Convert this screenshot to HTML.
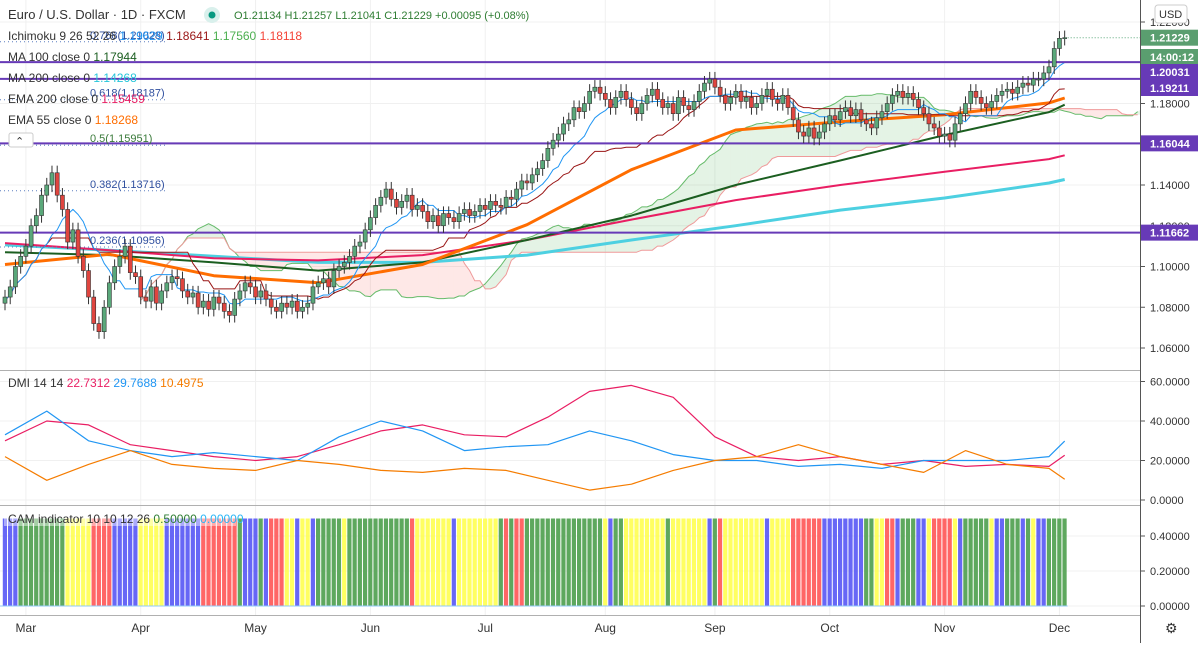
<!DOCTYPE html>
<html><head><meta charset="utf-8"><style>
body{margin:0;background:#fff;width:1198px;height:643px;overflow:hidden;font-family:"Liberation Sans",sans-serif}
svg text{font-family:"Liberation Sans",sans-serif}
</style></head><body>
<svg id="c" width="1198" height="643" xmlns="http://www.w3.org/2000/svg"></svg>
<script>
const closes=[1.085,1.090,1.100,1.105,1.110,1.120,1.125,1.135,1.140,1.146,
1.135,1.128,1.112,1.118,1.105,1.098,1.085,1.072,1.068,1.080,
1.092,1.100,1.105,1.110,1.097,1.095,1.085,1.083,1.090,1.082,
1.088,1.092,1.095,1.094,1.088,1.085,1.087,1.080,1.083,1.079,
1.085,1.082,1.078,1.076,1.084,1.088,1.092,1.090,1.085,1.088,
1.084,1.080,1.078,1.082,1.080,1.083,1.078,1.080,1.082,1.090,
1.092,1.094,1.090,1.098,1.100,1.102,1.105,1.110,1.112,1.118,
1.124,1.130,1.134,1.138,1.133,1.129,1.132,1.135,1.128,1.130,
1.127,1.122,1.125,1.120,1.126,1.124,1.122,1.126,1.128,1.125,
1.127,1.130,1.128,1.132,1.130,1.129,1.134,1.133,1.138,1.142,
1.141,1.145,1.148,1.152,1.158,1.162,1.165,1.170,1.172,1.178,
1.176,1.180,1.186,1.188,1.185,1.182,1.178,1.183,1.186,1.182,
1.178,1.175,1.180,1.184,1.187,1.182,1.178,1.180,1.175,1.183,
1.179,1.177,1.181,1.186,1.190,1.192,1.188,1.184,1.180,1.183,
1.186,1.181,1.183,1.178,1.180,1.184,1.187,1.182,1.180,1.184,
1.178,1.172,1.166,1.164,1.168,1.163,1.166,1.170,1.174,1.172,
1.176,1.178,1.174,1.177,1.172,1.170,1.168,1.173,1.176,1.180,
1.184,1.186,1.183,1.185,1.182,1.178,1.175,1.170,1.168,1.164,
1.165,1.162,1.170,1.175,1.180,1.186,1.183,1.180,1.178,1.181,
1.184,1.186,1.187,1.185,1.188,1.190,1.189,1.192,1.192,1.195,
1.198,1.207,1.212,1.2123];
const maBars=[0,20,40,60,80,100,120,140,160,180,200,203];
const ma200=[1.1106,1.108,1.105,1.102,1.102,1.1056,1.113,1.120,1.1277,1.1336,1.141,1.1427];
const ema200=[1.1115,1.108,1.104,1.103,1.1056,1.113,1.123,1.1326,1.140,1.1465,1.1527,1.1546];
const ma100=[1.107,1.1056,1.102,1.098,1.102,1.113,1.125,1.140,1.152,1.1645,1.1758,1.1794];
const ema55=[1.101,1.106,1.0955,1.092,1.101,1.1205,1.1475,1.167,1.171,1.1745,1.1803,1.1827];
const dmiBars=[0,8,16,24,32,40,48,56,64,72,80,88,96,104,112,120,128,136,144,152,160,168,176,184,192,200,203];
const diMinus=[30,40,38,28,25,22,20,22,28,35,38,33,32,42,55,58,52,32,22,20,22,18,20,17,18,17,22.7];
const diPlus=[33,45,30,25,22,24,22,20,32,40,35,25,27,28,35,30,23,20,20,17,18,16,20,20,20,22,29.8];
const adx=[22,10,18,25,18,16,15,20,18,15,14,16,15,10,5,8,15,20,22,28,22,18,14,25,18,16,10.5];
const camStates=("BBB"+"GGGGGGGGG"+"YYYYY"+"RRRR"+"BBBBB"+"YYYYY"+"BBBBBBB"+"RRRRRRR"+"G"+"BBB"+"G"+"B"+"RRR"+"YY"+"B"+"YY"+"B"+"GGGGG"+"Y"+"GGGGGGGGGGGG"+"R"+"YYYYYYY"+"B"+"YYYYYYYY"+"G"+"R"+"G"+"RR"+"GGGGGGGGGGGGGGG"+"Y"+"B"+"GG"+"YYYYYYYY"+"G"+"YYYYYYY"+"B"+"G"+"R"+"YYYYYYYY"+"B"+"YYYY"+"RRRRRR"+"BBBBBBBB"+"GG"+"YY"+"RR"+"B"+"GGG"+"BB"+"Y"+"RRRR"+"Y"+"B"+"GGGGG"+"Y"+"BB"+"GGG"+"B"+"G"+"Y"+"BB"+"GGGG").split("");
const priceTicks=[1.06,1.08,1.10,1.12,1.14,1.16,1.18,1.20,1.22];
const dmiTicks=[0,20,40,60];
const camTicks=[0,0.2,0.4];
const months=["Mar","Apr","May","Jun","Jul","Aug","Sep","Oct","Nov","Dec"];
const monthBars=[4,26,48,70,92,115,136,158,180,202];
const hLevels=[1.20031,1.19211,1.16044,1.11662];
const fibLabels=["0.886(1.23264)","0.768(1.21028)","0.618(1.18187)","0.5(1.15951)","0.382(1.13716)","0.236(1.10956)"];
const fibVals=[1.23264,1.21028,1.18187,1.15951,1.13716,1.10956];

const S=document.getElementById('c');const NS="http://www.w3.org/2000/svg";
function mk(t,a,p){const e=document.createElementNS(NS,t);for(const k in a)e.setAttribute(k,a[k]);(p||S).appendChild(e);return e;}
const xB=i=>5+i*5.22;
const yP=p=>185-(p-1.14)*2037.5;
const yD=v=>500-v*1.975;
const yC=v=>606-v*175;
priceTicks.forEach(p=>{const g=mk('line',{x1:0,x2:1140,y1:yP(p),y2:yP(p),stroke:'#f0f0f0'});});
monthBars.forEach(b=>{mk('line',{x1:xB(b),x2:xB(b),y1:0,y2:615,stroke:'#f0f0f0'});});
dmiTicks.forEach(v=>mk('line',{x1:0,x2:1140,y1:yD(v),y2:yD(v),stroke:'#f0f0f0'}));
camTicks.forEach(v=>mk('line',{x1:0,x2:1140,y1:yC(v),y2:yC(v),stroke:'#f0f0f0'}));
const n=closes.length;const opens=closes.map((c,i)=>i?closes[i-1]:c-0.003);
const highs=closes.map((c,i)=>Math.max(c,opens[i])+0.0035);
const lows=closes.map((c,i)=>Math.min(c,opens[i])-0.0035);
function mid(i,len){let h=-1e9,l=1e9;for(let j=Math.max(0,i-len+1);j<=i;j++){h=Math.max(h,highs[j]);l=Math.min(l,lows[j]);}return (h+l)/2;}
const tenkan=[],kijun=[],spanA=[],spanB=[];
for(let i=0;i<n;i++){tenkan.push(mid(i,9));kijun.push(mid(i,26));spanA.push((tenkan[i]+kijun[i])/2);spanB.push(mid(i,52));}
const cloud=mk('g',{});
for(let i=0;i<n-1;i++){const x1=xB(i+26),x2=xB(i+27);if(x1>1140)break;
 const a1=spanA[i],a2=spanA[i+1],b1=spanB[i],b2=spanB[i+1];
 mk('polygon',{points:`${x1},${yP(a1)} ${x2},${yP(a2)} ${x2},${yP(b2)} ${x1},${yP(b1)}`,fill:(a1+a2>b1+b2)?'rgba(76,175,80,0.15)':'rgba(244,67,54,0.12)',stroke:'none'},cloud);}
function line(xs,vs,yf,col,w,name){const d=vs.map((v,i)=>(i?'L':'M')+xs[i].toFixed(1)+','+yf(v).toFixed(1)).join('');const e=mk('path',{d,fill:'none',stroke:col,'stroke-width':w,'stroke-linejoin':'round'});return e;}
const shiftX=[];for(let i=0;i<n&&xB(i+26)<=1140;i++)shiftX.push(xB(i+26));
line(shiftX,spanA.slice(0,shiftX.length),yP,'#66bb6a',1,'senkou-span-a');
line(shiftX,spanB.slice(0,shiftX.length),yP,'#ef9a9a',1,'senkou-span-b');
const allX=closes.map((c,i)=>xB(i));
const mx=maBars.map(xB);
line(mx,ma200,yP,'#4dd0e1',3,'ma200-line');
line(mx,ema200,yP,'#e91e63',2,'ema200-line');
line(mx,ma100,yP,'#1b5e20',2,'ma100-line');
line(mx,ema55,yP,'#ff6d00',3,'ema55-line');
line(allX,kijun,yP,'#991515',1,'ichimoku-base-line');
line(allX,tenkan,yP,'#2196f3',1,'ichimoku-conversion-line');
hLevels.forEach(p=>{const l=mk('line',{x1:0,x2:1140,y1:yP(p),y2:yP(p),stroke:'#673ab7','stroke-width':2});});
fibVals.forEach((p,i)=>{mk('line',{x1:0,x2:165,y1:yP(p),y2:yP(p),stroke:'#5b7fc0','stroke-dasharray':'1,3'});const t=mk('text',{x:90,y:yP(p)-3,'font-size':11,fill:i==3?'#3a7a3a':'#2f4f9f'});t.textContent=fibLabels[i];});
const cg=mk('g',{});
for(let i=0;i<n;i++){const x=xB(i),up=closes[i]>=opens[i];
 mk('line',{x1:x,x2:x,y1:yP(highs[i]),y2:yP(lows[i]),stroke:'#333'},cg);
 const t=yP(Math.max(opens[i],closes[i])),b=yP(Math.min(opens[i],closes[i]));
 const r=mk('rect',{x:x-2,y:t,width:4,height:Math.max(1,b-t),fill:up?'#5aa87a':'#e0453f',stroke:'#333','stroke-width':0.6},cg);
 }
mk('line',{x1:xB(n-1),x2:1140,y1:yP(closes[n-1]),y2:yP(closes[n-1]),stroke:'#5aa87a','stroke-dasharray':'1,2'});
const dx=dmiBars.map(xB);
line(dx,diMinus,yD,'#e91e63',1.2,'di-minus-line');
line(dx,diPlus,yD,'#2196f3',1.2,'di-plus-line');
line(dx,adx,yD,'#f57c00',1.2,'adx-line');
const cc={B:'#5656f5',G:'#4c9f4c',Y:'#ffff50',R:'#ff5555'};
for(let i=0;i<Math.min(n,camStates.length);i++){const r=mk('rect',{x:xB(i)-2.2,y:yC(0.5),width:4.2,height:yC(0)-yC(0.5),fill:cc[camStates[i]],opacity:0.9});}
mk('line',{x1:0,x2:xB(n-1)+3,y1:yC(0),y2:yC(0),stroke:'#90caf9'});
[370,505,615].forEach(y=>mk('line',{x1:0,x2:1198,y1:y+0.5,y2:y+0.5,stroke:'#b0b0b0'}));
mk('rect',{x:1140,y:0,width:58,height:643,fill:'#fff'});
mk('line',{x1:1140.5,x2:1140.5,y1:0,y2:643,stroke:'#555'});
mk('rect',{x:0,y:616,width:1140,height:27,fill:'#fff'});
function txt(x,y,s,o){const t=mk('text',Object.assign({x,y,'font-size':11,fill:'#333'},o||{}));t.textContent=s;return t;}
priceTicks.forEach(p=>{mk('line',{x1:1140,x2:1145,y1:yP(p),y2:yP(p),stroke:'#555'});const t=txt(1150,yP(p)+4,p.toFixed(5));});
dmiTicks.forEach(v=>{mk('line',{x1:1140,x2:1145,y1:yD(v),y2:yD(v),stroke:'#555'});txt(1150,yD(v)+4,v.toFixed(4));});
camTicks.forEach(v=>{mk('line',{x1:1140,x2:1145,y1:yC(v),y2:yC(v),stroke:'#555'});txt(1150,yC(v)+4,v.toFixed(5));});
months.forEach((m,i)=>{const t=txt(xB(monthBars[i]),632,m,{'text-anchor':'middle','font-size':12});});
function tag(y,s,col,name){const g=mk('g',{});mk('rect',{x:1141,y:y-8,width:57,height:16,fill:col},g);const t=mk('text',{x:1150,y:y+4,'font-size':11,'font-weight':'bold',fill:'#fff'},g);t.textContent=s;}
tag(yP(closes[n-1]),'1.21229','#5a9e6f','last-price-tag');tag(57,'14:00:12','#5a9e6f','countdown-tag');
tag(72,'1.20031','#673ab7','level-tag');tag(88,'1.19211','#673ab7','level-tag');tag(yP(1.16044),'1.16044','#673ab7','level-tag');tag(yP(1.11662),'1.11662','#673ab7','level-tag');
const u=mk('rect',{x:1155,y:5,width:32,height:18,rx:3,fill:'#fff',stroke:'#ccc'});txt(1159,18,'USD');
txt(1165,633,'⚙',{'font-size':14});
const L=(y,parts,name,fs)=>{const t=mk('text',{x:8,y,'font-size':fs||12});parts.forEach(([s,c])=>{const sp=mk('tspan',{fill:c},t);sp.textContent=s;});};
L(19,[["Euro / U.S. Dollar · 1D · FXCM","#333"]],'symbol-title',13);
mk('circle',{cx:212,cy:15,r:8,fill:'#d9f0ec'});mk('circle',{cx:212,cy:15,r:3.5,fill:'#089981'});
txt(234,19,'O1.21134 H1.21257 L1.21041 C1.21229 +0.00095 (+0.08%)',{'font-size':11,fill:'#2e7d32'});
L(40,[["Ichimoku 9 26 52 26  ","#333"],["1.19629 ","#2196f3"],["1.18641 ","#991515"],["1.17560 ","#4caf50"],["1.18118","#f44336"]],'ichimoku-legend');
L(61,[["MA 100 close 0  ","#333"],["1.17944","#1b5e20"]],'ma100-legend');
L(82,[["MA 200 close 0  ","#333"],["1.14268","#26c6da"]],'ma200-legend');
L(103,[["EMA 200 close 0  ","#333"],["1.15459","#e91e63"]],'ema200-legend');
L(124,[["EMA 55 close 0  ","#333"],["1.18268","#ff6d00"]],'ema55-legend');
const cb=mk('rect',{x:9,y:133,width:24,height:14,rx:2,fill:'#fff',stroke:'#ccc'});txt(15,145,'⌃');
L(387,[["DMI 14 14  ","#333"],["22.7312  ","#e91e63"],["29.7688  ","#2196f3"],["10.4975","#f57c00"]],'dmi-legend');
mk('rect',{x:4,y:512,width:232,height:14,fill:'rgba(255,255,255,0.45)'});
L(523,[["CAM indicator 10 10 12 26  ","#333"],["0.50000  ","#2e7d32"],["0.00000","#29b6f6"]],'cam-legend');
</script>
</body></html>
